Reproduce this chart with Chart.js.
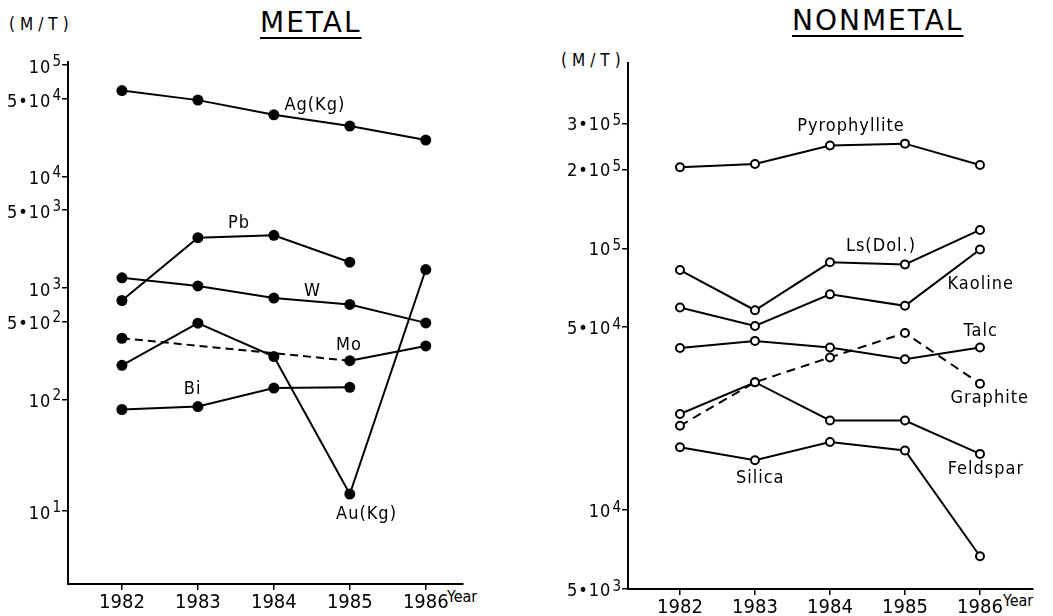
<!DOCTYPE html>
<html>
<head>
<meta charset="utf-8">
<script src="https://cdn.jsdelivr.net/npm/chart.js@4.4.0/dist/chart.umd.min.js"></script>
<style>
  html, body { margin: 0; padding: 0; background: #fff; }
  body { width: 1053px; height: 616px; position: relative; overflow: hidden; font-family: "DejaVu Sans Condensed", "DejaVu Sans", sans-serif; color: #000; }
  canvas { position: absolute; top: 0; }
  #metalChart { left: 0; }
  #nonmetalChart { left: 520px; }
  .title { position: absolute; font-family: "DejaVu Sans", sans-serif; font-size: 28px; line-height: 28px; letter-spacing: 2px; text-decoration: underline; text-underline-offset: 5px; text-decoration-thickness: 2px; }
  .unit, .year { position: absolute; font-size: 16px; line-height: 14px; }
  .unit { font-size: 17px; letter-spacing: 5px; }
</style>
</head>
<body>
<div class="title" style="left:260px;top:9px;">METAL</div>
<div class="title" style="left:792px;top:7px;">NONMETAL</div>
<div class="unit" style="left:9px;top:17px;">(M/T)</div>
<div class="unit" style="left:561px;top:53px;">(M/T)</div>
<div class="year" style="left:447px;top:590px;">Year</div>
<div class="year" style="left:1003px;top:594px;">Year</div>
<canvas id="metalChart" width="520" height="616"></canvas>
<canvas id="nonmetalChart" width="533" height="616"></canvas>
<script>
/* ── data (M/T, log scale) ── */
const years = [1982, 1983, 1984, 1985, 1986];

// METAL
const ag = [59000, 48400, 35700, 28300, 21200];
const pb = [770, 2820, 2960, 1700, null];
const w  = [1230, 1040, 810, 710, 485];
const mo = [353, null, null, 222, 301];
const au = [202, 482, 242, 14.1, 1460];
const bi = [81, 86, 126, 128, null];

// tick values with their label as [base, exponent]
const metalTicks = [1e1, 1e2, 5e2, 1e3, 5e3, 1e4, 5e4, 1e5];
const metalTickBase = ['10', '10', '5•10', '10', '5•10', '10', '5•10', '10'];
const metalTickExp  = ['1', '2', '2', '3', '3', '4', '4', '5'];

const metalLabelText  = ['Ag(Kg)', 'Pb', 'W', 'Mo', 'Bi', 'Au(Kg)'];
const metalLabelYear  = [1984.54, 1983.54, 1984.51, 1984.99, 1982.93, 1985.22];
const metalLabelValue = [43600, 3790, 929, 303, 122, 9.2];

// NONMETAL
const pyro     = [204000, 210000, 247000, 251000, 208000];
const ls       = [82600, 58000, 88400, 86800, 117500];
const kaoline  = [59400, 50500, 66700, 60300, 99000];
const talc     = [41600, 44300, 41800, 37700, 41800];
const graphite = [21000, 30800, 38300, 47500, 30400];
const feldspar = [23300, 30800, 22000, 22000, 16400];
const silica   = [17400, 15500, 18200, 16900, 6670];

const nonmetalTicks = [5e3, 1e4, 5e4, 1e5, 2e5, 3e5];
const nonmetalTickBase = ['5•10', '10', '5•10', '10', '2•10', '3•10'];
const nonmetalTickExp  = ['3', '4', '4', '5', '5', '5'];

const nonmetalLabelText  = ['Pyrophyllite', 'Ls(Dol.)', 'Kaoline', 'Talc', 'Graphite', 'Feldspar', 'Silica'];
const nonmetalLabelYear  = [1984.28, 1984.68, 1986.01, 1986.01, 1986.13, 1986.08, 1983.07];
const nonmetalLabelValue = [292000, 102000, 73000, 48200, 26700, 14300, 13200];

const FONT = '"DejaVu Sans Condensed", "DejaVu Sans", sans-serif';

/* ── series labels drawn at data coordinates ── */
const seriesLabelPlugin = {
    id: 'seriesLabels',
    afterDatasetsDraw(chart, args, opts) {
        const { ctx, scales: { x, y } } = chart;
        ctx.save();
        ctx.font = '18px ' + FONT;
        ctx.letterSpacing = '1px';
        ctx.fillStyle = '#000';
        ctx.textAlign = 'center';
        ctx.textBaseline = 'middle';
        opts.text.forEach((t, i) => ctx.fillText(t, x.getPixelForValue(opts.year[i]), y.getPixelForValue(opts.value[i])));
        ctx.restore();
    }
};

/* ── y tick labels "a·10^n" with a raised exponent ── */
const powerTickPlugin = {
    id: 'powerTicks',
    afterDraw(chart, args, opts) {
        const { ctx, scales: { y } } = chart;
        const right = y.right - 7;
        ctx.save();
        ctx.fillStyle = '#000';
        ctx.textAlign = 'right';
        ctx.textBaseline = 'alphabetic';
        opts.values.forEach((v, i) => {
            const py = y.getPixelForValue(v);
            ctx.font = '15px ' + FONT;
            const ew = ctx.measureText(opts.exp[i]).width;
            ctx.fillText(opts.exp[i], right, py + opts.expShift);
            ctx.font = '18px ' + FONT;
            ctx.letterSpacing = '1px';
            ctx.fillText(opts.base[i], right - ew - 1, py + opts.baseShift);
            ctx.letterSpacing = '0px';
        });
        ctx.restore();
    }
};

// dashed where the line bridges missing years
const gapDash = ctx => (ctx.p0.skip || ctx.p1.skip ? [8, 5] : undefined);

function series(values, extra) {
    return Object.assign({
        data: years.map((yr, i) => ({ x: yr, y: values[i] })),
        borderColor: '#000', borderWidth: 2, tension: 0, fill: false
    }, extra);
}

const filledDot = { pointRadius: 5.5, pointBackgroundColor: '#000', pointBorderColor: '#000', pointBorderWidth: 0 };
const openDot = { pointRadius: 4, pointBackgroundColor: '#fff', pointBorderColor: '#000', pointBorderWidth: 2 };

function makeOptions(c) {
    return {
        responsive: false, animation: false, devicePixelRatio: 1,
        layout: { padding: { top: c.top, right: c.right, left: 0, bottom: 0 } },
        plugins: {
            legend: { display: false }, tooltip: { enabled: false },
            seriesLabels: { text: c.labelText, year: c.labelYear, value: c.labelValue },
            powerTicks: { values: c.ticks, base: c.tickBase, exp: c.tickExp, baseShift: c.baseShift, expShift: c.expShift }
        },
        scales: {
            x: {
                type: 'linear', min: c.xMin, max: c.xMax, bounds: 'data',
                afterBuildTicks: s => { s.ticks = years.map(v => ({ value: v })); },
                afterFit: s => { s.height = c.xH; },
                grid: { drawOnChartArea: false, drawTicks: true, tickLength: 6, color: '#000', lineWidth: 1.5 },
                border: { color: '#000', width: 2 },
                ticks: { callback: v => String(v), color: '#000', font: { family: FONT, size: 20 }, padding: 1, maxRotation: 0, autoSkip: false }
            },
            y: {
                type: 'logarithmic', min: c.yMin, max: c.yMax, bounds: 'data',
                afterBuildTicks: s => { s.ticks = c.ticks.map(v => ({ value: v })); },
                afterFit: s => { s.width = c.yW; },
                grid: { drawOnChartArea: false, drawTicks: true, tickLength: 6, color: '#000', lineWidth: 1.5 },
                border: { color: '#000', width: 2 },
                ticks: { display: false, autoSkip: false }
            }
        }
    };
}

new Chart(document.getElementById('metalChart'), {
    type: 'line',
    data: {
        datasets: [
            series(ag, filledDot), series(pb, filledDot), series(w, filledDot),
            series(mo, Object.assign({ spanGaps: true, segment: { borderDash: gapDash } }, filledDot)),
            series(au, filledDot), series(bi, filledDot)
        ]
    },
    options: makeOptions({
        top: 62, right: 57, xH: 32, yW: 68,
        xMin: 1981.29, xMax: 1986.49, yMin: 2.2, yMax: 106400,
        ticks: metalTicks, tickBase: metalTickBase, tickExp: metalTickExp, baseShift: 8, expShift: 1,
        labelText: metalLabelText, labelYear: metalLabelYear, labelValue: metalLabelValue
    }),
    plugins: [seriesLabelPlugin, powerTickPlugin]
});

new Chart(document.getElementById('nonmetalChart'), {
    type: 'line',
    data: {
        datasets: [
            series(pyro, openDot), series(ls, openDot), series(kaoline, openDot), series(talc, openDot),
            series(graphite, Object.assign({ borderDash: [9, 6] }, openDot)),
            series(feldspar, openDot), series(silica, openDot)
        ]
    },
    options: makeOptions({
        top: 63, right: 20, xH: 27, yW: 108,
        xMin: 1981.307, xMax: 1986.707, yMin: 5000, yMax: 510000,
        ticks: nonmetalTicks, tickBase: nonmetalTickBase, tickExp: nonmetalTickExp, baseShift: 7, expShift: 2,
        labelText: nonmetalLabelText, labelYear: nonmetalLabelYear, labelValue: nonmetalLabelValue
    }),
    plugins: [seriesLabelPlugin, powerTickPlugin]
});
</script>
</body>
</html>
